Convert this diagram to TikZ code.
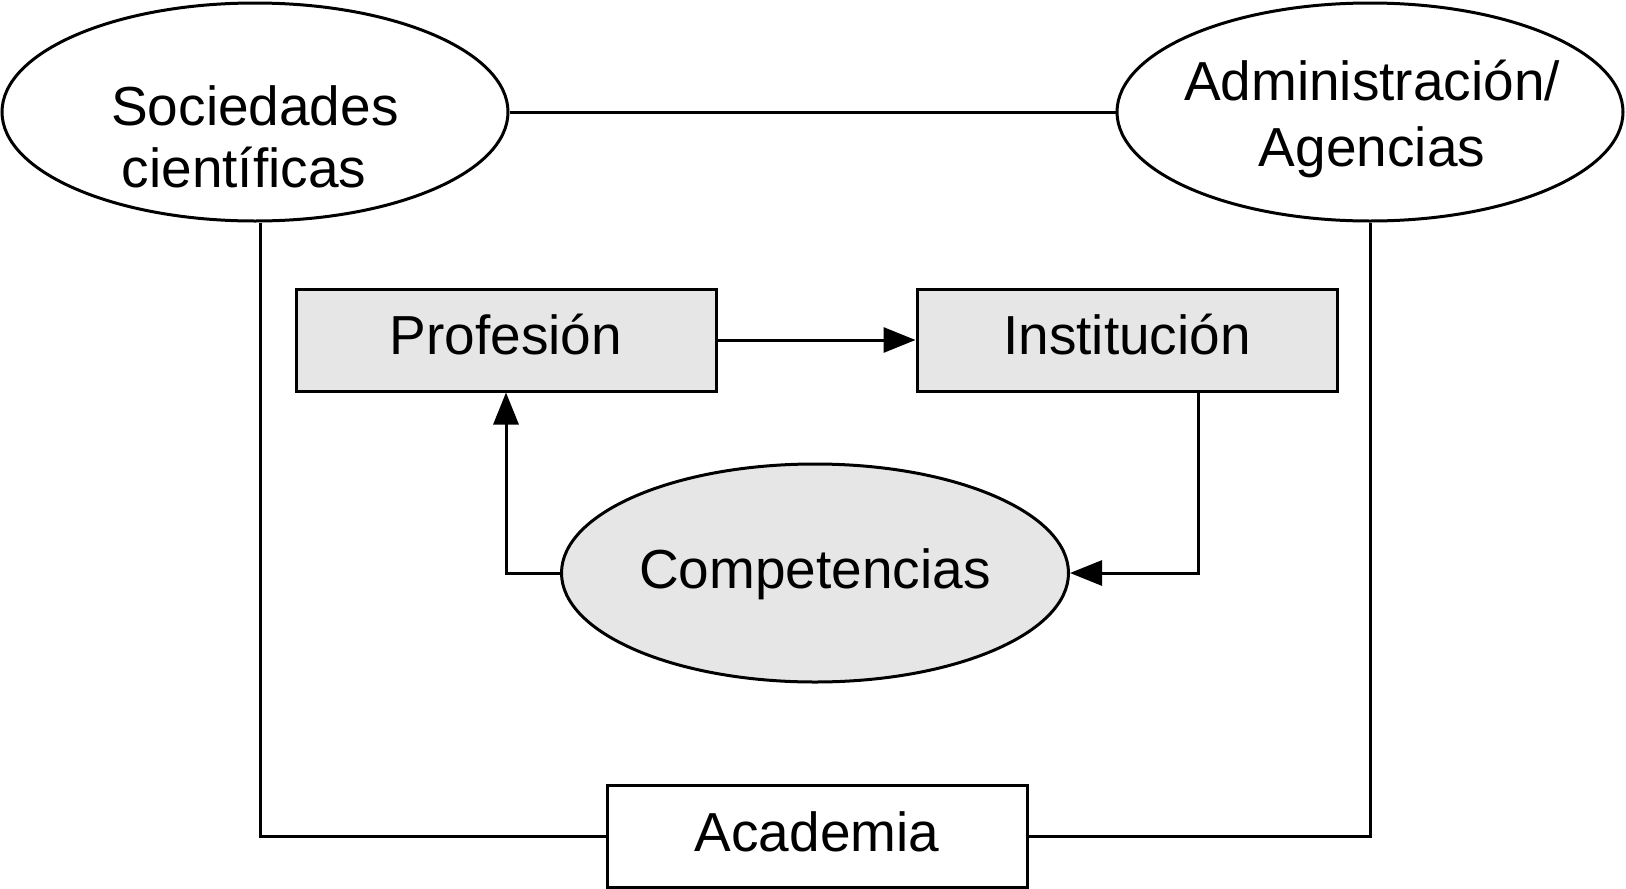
\documentclass[tikz,border=0pt]{standalone}
\usepackage{fontspec}
\setmainfont{Liberation Sans}
\usetikzlibrary{shapes.geometric,arrows.meta}
\definecolor{boxgray}{HTML}{E6E6E6}
\tikzset{
  base/.style={draw=black,line width=3pt,inner sep=0pt,align=center,font=\fontsize{55}{60}\selectfont},
  oval/.style={base,ellipse,minimum width=506pt,minimum height=218pt},
  rectbox/.style={base,rectangle,minimum width=420pt,minimum height=102pt},
  txt/.style={inner sep=0pt,anchor=base,font=\fontsize{55}{60}\selectfont},
  conn/.style={line width=3pt,draw=black},
  arr/.style={conn,-{Triangle[length=32pt,width=25pt]}}
}
\begin{document}
\begin{tikzpicture}[x=1pt,y=-1pt]
\useasboundingbox (0,0) rectangle (1626,889);
\node[oval] (soc) at (255,112) {};
\node[oval] (adm) at (1370,112) {};
\node[txt] (soc1) at (255,125) {Sociedades};
\node[txt] (soc2) at (244,187) {científicas};
\node[txt] (adm1) at (1372,100) {Administración/};
\node[txt] (adm2) at (1372,166) {Agencias};
\node[rectbox,fill=boxgray] (prof) at (506,340) {};
\node[rectbox,fill=boxgray] (inst) at (1127,340) {};
\node[oval,fill=boxgray,minimum width=507pt] (comp) at (815,573) {};
\node[rectbox,fill=white] (aca) at (817,836) {};
\node[txt] (proft) at (506,354) {Profesión};
\node[txt] (instt) at (1127,354) {Institución};
\node[txt] (compt) at (815,588) {Competencias};
\node[txt] (acat) at (817,851) {Academia};
\coordinate (instout) at (1198,391);
\draw[conn] (soc.east) -- (adm.west);
\draw[conn] ([xshift=5pt]soc.south) |- (aca.west);
\draw[conn] (adm.south) |- (aca.east);
\draw[arr] (prof.east) -- (inst.west);
\draw[arr] (comp.west) -| (prof.south);
\draw[arr] (instout) |- (comp.east);
\end{tikzpicture}
\end{document}
